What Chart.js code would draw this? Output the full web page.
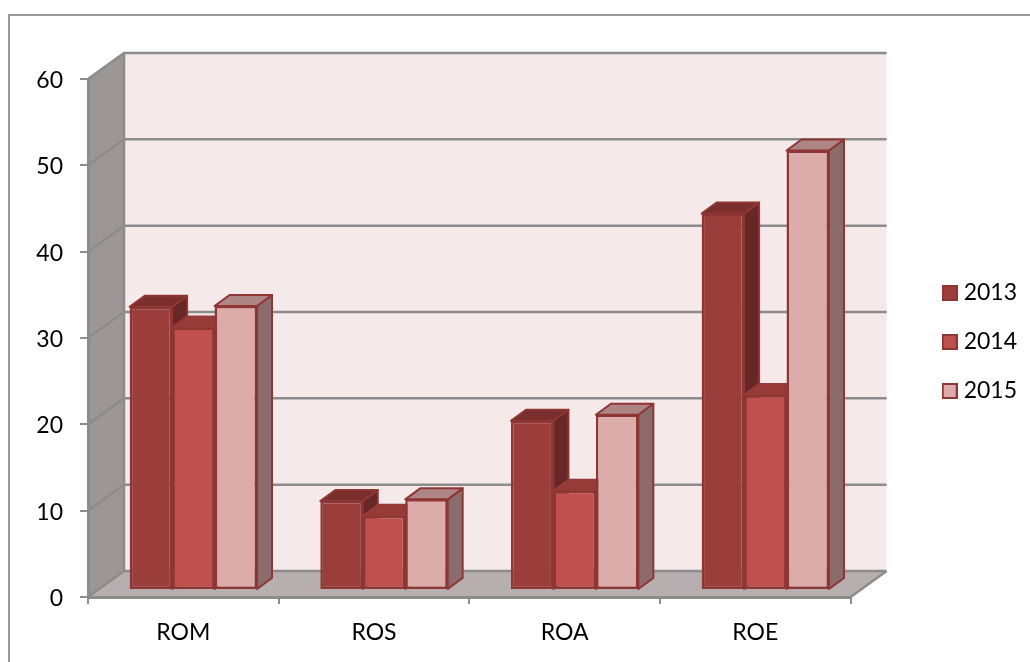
<!DOCTYPE html>
<html>
<head>
<meta charset="utf-8">
<style>
  html, body { margin: 0; background: #fff; }
  #wrap { position: relative; width: 1030px; height: 662px; }
</style>
<script src="https://cdn.jsdelivr.net/npm/chart.js@4"></script>
</head>
<body>
<div id="wrap"><canvas id="ratios"></canvas></div>
<script>
const categories = ['ROM', 'ROS', 'ROA', 'ROE'];
const yearLabels = ['2013', '2014', '2015'];
const values2013 = [32.8, 10.3, 19.6, 43.6];
const values2014 = [30.4, 8.6, 11.5, 22.6];
const values2015 = [32.9, 10.5, 20.3, 50.9];

const frontColors = ['#9B3D3B', '#C0504D', '#DBACAA'];
const topColors = ['#7A2F2D', '#963B38', '#AD8584'];
const sideColors = ['#662726', '#7E302E', '#8C6B6C'];
const topEdges = ['#8E3634', '#963B38', '#8E3634'];
const edgeColor = '#8E3634';
const gridColor = '#8C8C8C';

// depth of the box the bars stand in, and of the bars themselves
const wallDepth = { x: 36, y: -26 };
const barInset = { x: 10, y: -7 };
const barDepth = { x: 15, y: -11 };

function poly(ctx, points, fill, stroke, lineWidth) {
    ctx.beginPath();
    points.forEach((p, i) => (i ? ctx.lineTo(p[0], p[1]) : ctx.moveTo(p[0], p[1])));
    ctx.closePath();
    ctx.fillStyle = fill;
    ctx.fill();
    if (stroke) {
        ctx.strokeStyle = stroke;
        ctx.lineWidth = lineWidth;
        ctx.lineJoin = 'round';
        ctx.stroke();
    }
}

// legend swatch, wider than the slot chart.js leaves before the text
function swatch(color) {
    const c = document.createElement('canvas');
    c.width = 16;
    c.height = 16;
    const g = c.getContext('2d');
    g.fillStyle = color;
    g.fillRect(0, 0, 16, 16);
    g.strokeStyle = edgeColor;
    g.lineWidth = 2;
    g.strokeRect(1, 1, 14, 14);
    return c;
}
const swatches = frontColors.map(swatch);

const box3d = {
    id: 'box3d',
    beforeDraw(chart) {
        const { ctx, chartArea: a, scales: { y } } = chart;
        const dx = wallDepth.x, dy = wallDepth.y;
        ctx.save();

        // outer frame, runs off the right and bottom of the page
        ctx.strokeStyle = '#9A9A9A';
        ctx.lineWidth = 2;
        ctx.strokeRect(9, 15, 1040, 670);

        poly(ctx, [[a.left + dx, a.top + dy], [a.right + dx, a.top + dy], [a.right + dx, a.bottom + dy], [a.left + dx, a.bottom + dy]], '#F5E9E9');
        poly(ctx, [[a.left, a.top], [a.left + dx, a.top + dy], [a.left + dx, a.bottom + dy], [a.left, a.bottom]], '#9C9696');
        poly(ctx, [[a.left, a.bottom], [a.left + dx, a.bottom + dy], [a.right + dx, a.bottom + dy], [a.right, a.bottom]], '#B7AFAF');

        ctx.strokeStyle = gridColor;
        ctx.lineWidth = 2.5;
        ctx.beginPath();
        y.ticks.forEach(t => {
            const py = y.getPixelForValue(t.value);
            ctx.moveTo(a.left, py);
            ctx.lineTo(a.left + dx, py + dy);
            ctx.lineTo(a.right + dx, py + dy);
        });
        ctx.moveTo(a.left + dx, a.top + dy);
        ctx.lineTo(a.left + dx, a.bottom + dy);
        ctx.moveTo(a.right, a.bottom);
        ctx.lineTo(a.right + dx, a.bottom + dy);
        ctx.stroke();
        ctx.restore();
    },
    // left to right, so each bar covers the side of the one before it
    beforeDatasetsDraw(chart) {
        const ctx = chart.ctx;
        ctx.save();
        ctx.translate(barInset.x, barInset.y);
        chart.getSortedVisibleDatasetMetas().forEach(meta => {
            const i = meta.index;
            meta.data.forEach(bar => {
                const l = bar.x - bar.width / 2, r = bar.x + bar.width / 2;
                const dx = barDepth.x, dy = barDepth.y;
                poly(ctx, [[r, bar.y], [r + dx, bar.y + dy], [r + dx, bar.base + dy], [r, bar.base]], sideColors[i], edgeColor, 2);
                poly(ctx, [[l, bar.y], [l + dx, bar.y + dy], [r + dx, bar.y + dy], [r, bar.y]], topColors[i], topEdges[i], 2);
            });
            meta.controller.draw();
        });
        ctx.restore();
        return false;
    }
};

function series(i, data) {
    return {
        label: yearLabels[i],
        data: data,
        backgroundColor: frontColors[i],
        borderColor: edgeColor,
        borderWidth: 2.5,
        borderSkipped: false,
        categoryPercentage: 0.668,
        barPercentage: 1
    };
}

new Chart(document.getElementById('ratios'), {
    type: 'bar',
    data: {
        labels: categories,
        datasets: [series(0, values2013), series(1, values2014), series(2, values2015)]
    },
    plugins: [box3d],
    options: {
        responsive: true,
        maintainAspectRatio: false,
        animation: false,
        layout: { padding: { top: 22, right: 3, bottom: 0, left: 0 } },
        plugins: {
            tooltip: { enabled: false },
            legend: {
                position: 'right',
                labels: {
                    usePointStyle: true,
                    pointStyleWidth: 5,
                    boxHeight: 16,
                    padding: 26,
                    color: '#000',
                    font: { family: 'Lato', size: 23 },
                    generateLabels(chart) {
                        const items = Chart.defaults.plugins.legend.labels.generateLabels(chart);
                        items.forEach((item, i) => { item.pointStyle = swatches[i]; });
                        return items;
                    }
                }
            }
        },
        scales: {
            x: {
                afterFit(scale) { scale.height = 65; },
                grid: { color: gridColor, lineWidth: 2, tickLength: 7, drawOnChartArea: false },
                border: { color: gridColor, width: 3 },
                ticks: { color: '#000', padding: 15, maxRotation: 0, font: { family: 'Lato', size: 23 } }
            },
            y: {
                min: 0,
                max: 60,
                afterFit(scale) { scale.width = 88; },
                grid: { color: gridColor, lineWidth: 2, tickLength: 8, drawOnChartArea: false },
                border: { color: gridColor, width: 3 },
                ticks: { stepSize: 10, color: '#000', padding: 17, labelOffset: 1.5, font: { family: 'Lato', size: 23 } }
            },
            // empty strips: above the plot, and between the plot and the legend
            topGap: {
                axis: 'x',
                position: 'top',
                afterFit(scale) { scale.height = 57; },
                grid: { display: false },
                border: { display: false },
                ticks: { display: false }
            },
            rightGap: {
                position: 'right',
                afterFit(scale) { scale.width = 70.5; },
                grid: { display: false },
                border: { display: false },
                ticks: { display: false }
            }
        }
    }
});
</script>
</body>
</html>
